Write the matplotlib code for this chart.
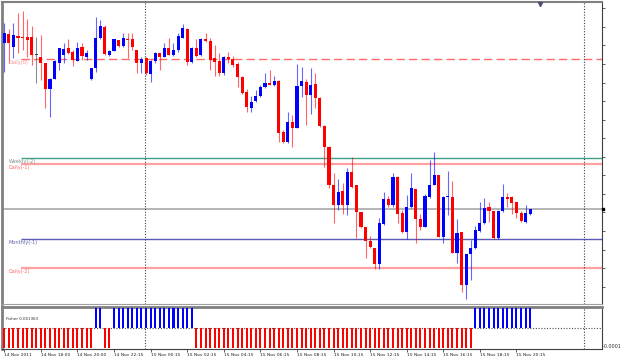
import numpy as np
import matplotlib
matplotlib.use('Agg')
import matplotlib.pyplot as plt

# 15 minute EUR/USD bars, 14 Nov 2011 16:15 .. 15 Nov 2011 20:45
open_ = [1.3757, 1.3766, 1.3753, 1.3764, 1.3763, 1.3763, 1.3763, 1.3745, 1.3743, 1.3737,
         1.3711, 1.3721, 1.3737, 1.3745, 1.3752, 1.3748, 1.3739, 1.3753, 1.3743, 1.3721,
         1.3732, 1.3762, 1.3773, 1.3745, 1.3749, 1.3760, 1.3754, 1.3761, 1.3761, 1.3750,
         1.3737, 1.3742, 1.3726, 1.3739, 1.3747, 1.3743, 1.3752, 1.3745, 1.3750, 1.3762,
         1.3771, 1.3738, 1.3752, 1.3745, 1.3761, 1.3759, 1.3742, 1.3739, 1.3727, 1.3743,
         1.3741, 1.3736, 1.3723, 1.3708, 1.3692, 1.3699, 1.3704, 1.3713, 1.3717, 1.3715,
         1.3719, 1.3668, 1.3658, 1.3678, 1.3672, 1.3714, 1.3718, 1.3705, 1.3716, 1.3702,
         1.3674, 1.3653, 1.3615, 1.3595, 1.3609, 1.3595, 1.3628, 1.3615, 1.3588, 1.3573,
         1.3559, 1.3552, 1.3536, 1.3576, 1.3601, 1.3595, 1.3623, 1.3587, 1.3568, 1.3593,
         1.3611, 1.3581, 1.3573, 1.3603, 1.3615, 1.3625, 1.3563, 1.3603, 1.3603, 1.3547,
         1.3568, 1.3515, 1.3546, 1.3552, 1.3569, 1.3577, 1.3593, 1.3589, 1.3562, 1.3589,
         1.3603, 1.3603, 1.3598, 1.3587, 1.3578, 1.3586]
high = [1.3777, 1.3771, 1.3777, 1.3787, 1.3789, 1.3781, 1.3774, 1.3763, 1.3765, 1.3737,
        1.3722, 1.3740, 1.3752, 1.3757, 1.3761, 1.3750, 1.3758, 1.3757, 1.3750, 1.3732,
        1.3783, 1.3780, 1.3775, 1.3750, 1.3761, 1.3760, 1.3767, 1.3767, 1.3767, 1.3750,
        1.3743, 1.3743, 1.3740, 1.3748, 1.3747, 1.3757, 1.3762, 1.3757, 1.3767, 1.3776,
        1.3772, 1.3753, 1.3761, 1.3762, 1.3767, 1.3762, 1.3755, 1.3747, 1.3744, 1.3748,
        1.3744, 1.3738, 1.3724, 1.3711, 1.3704, 1.3710, 1.3715, 1.3727, 1.3730, 1.3724,
        1.3720, 1.3670, 1.3688, 1.3685, 1.3736, 1.3733, 1.3721, 1.3732, 1.3727, 1.3703,
        1.3675, 1.3654, 1.3627, 1.3621, 1.3617, 1.3632, 1.3643, 1.3615, 1.3588, 1.3573,
        1.3564, 1.3552, 1.3582, 1.3608, 1.3604, 1.3627, 1.3624, 1.3590, 1.3605, 1.3627,
        1.3611, 1.3586, 1.3606, 1.3640, 1.3648, 1.3625, 1.3604, 1.3629, 1.3619, 1.3581,
        1.3568, 1.3546, 1.3560, 1.3574, 1.3598, 1.3602, 1.3598, 1.3589, 1.3590, 1.3616,
        1.3607, 1.3604, 1.3598, 1.3589, 1.3595, 1.3591]
low = [1.3728, 1.3737, 1.3742, 1.3747, 1.3750, 1.3743, 1.3735, 1.3717, 1.3720, 1.3692,
       1.3683, 1.3721, 1.3730, 1.3737, 1.3746, 1.3734, 1.3739, 1.3740, 1.3740, 1.3720,
       1.3728, 1.3761, 1.3745, 1.3744, 1.3749, 1.3753, 1.3753, 1.3742, 1.3750, 1.3727,
       1.3727, 1.3725, 1.3718, 1.3737, 1.3730, 1.3743, 1.3745, 1.3744, 1.3748, 1.3762,
       1.3735, 1.3737, 1.3743, 1.3744, 1.3758, 1.3730, 1.3724, 1.3724, 1.3725, 1.3737,
       1.3733, 1.3713, 1.3706, 1.3688, 1.3688, 1.3698, 1.3703, 1.3712, 1.3715, 1.3714,
       1.3658, 1.3657, 1.3657, 1.3653, 1.3672, 1.3703, 1.3675, 1.3686, 1.3692, 1.3673,
       1.3633, 1.3612, 1.3577, 1.3590, 1.3586, 1.3585, 1.3612, 1.3562, 1.3572, 1.3542,
       1.3552, 1.3531, 1.3531, 1.3575, 1.3593, 1.3593, 1.3577, 1.3567, 1.3561, 1.3592,
       1.3557, 1.3570, 1.3573, 1.3602, 1.3615, 1.3563, 1.3557, 1.3585, 1.3547, 1.3537,
       1.3508, 1.3501, 1.3520, 1.3551, 1.3568, 1.3576, 1.3578, 1.3561, 1.3561, 1.3588,
       1.3593, 1.3586, 1.3582, 1.3578, 1.3577, 1.3585]
close = [1.3767, 1.3757, 1.3765, 1.3762, 1.3762, 1.3760, 1.3745, 1.3745, 1.3737, 1.3711,
         1.3721, 1.3739, 1.3752, 1.3751, 1.3747, 1.3740, 1.3752, 1.3744, 1.3747, 1.3732,
         1.3762, 1.3774, 1.3746, 1.3749, 1.3761, 1.3754, 1.3762, 1.3760, 1.3753, 1.3737,
         1.3741, 1.3727, 1.3739, 1.3747, 1.3743, 1.3752, 1.3745, 1.3750, 1.3764, 1.3772,
         1.3738, 1.3752, 1.3744, 1.3761, 1.3759, 1.3740, 1.3738, 1.3727, 1.3743, 1.3741,
         1.3735, 1.3723, 1.3707, 1.3693, 1.3698, 1.3704, 1.3713, 1.3717, 1.3715, 1.3719,
         1.3667, 1.3658, 1.3678, 1.3672, 1.3714, 1.3719, 1.3705, 1.3715, 1.3702, 1.3674,
         1.3653, 1.3615, 1.3595, 1.3608, 1.3595, 1.3628, 1.3613, 1.3588, 1.3573, 1.3559,
         1.3553, 1.3536, 1.3577, 1.3601, 1.3595, 1.3623, 1.3586, 1.3568, 1.3593, 1.3612,
         1.3581, 1.3573, 1.3604, 1.3615, 1.3625, 1.3563, 1.3603, 1.3604, 1.3547, 1.3567,
         1.3515, 1.3546, 1.3552, 1.3570, 1.3577, 1.3592, 1.3589, 1.3562, 1.3589, 1.3603,
         1.3601, 1.3597, 1.3587, 1.3579, 1.3587, 1.3591]

# Fisher histogram: +1 blue bar, -1 red bar (all bars are clipped by the window)
fisher = [-1] * 20 + [1] * 2 + [-1] * 2 + [1] * 18 + [-1] * 61 + [1] * 13
fisher_text = 'Fisher 0.061363'

# Pivot levels
level_names = ['Daily(0)', 'Weekly(-2)', 'Daily(-1)', 'Monthly(-1)', 'Daily(-2)']
level_prices = [1.3741, 1.3642, 1.3636, 1.3561, 1.3532]
level_colors = ['#ff6a6a', '#3f9f8a', '#ffa0a0', '#5a5ab4', '#ffa0a0']
label_colors = ['#ff8c8c', '#7c9488', '#ff6a6a', '#6060b0', '#ff6a6a']

# Time axis
time_labels = ['14 Nov 2011', '14 Nov 18:00', '14 Nov 20:00', '14 Nov 22:15', '15 Nov 00:15',
               '15 Nov 02:15', '15 Nov 04:15', '15 Nov 06:15', '15 Nov 08:15', '15 Nov 10:15',
               '15 Nov 12:15', '15 Nov 14:15', '15 Nov 16:15', '15 Nov 18:15', '15 Nov 20:15']
time_label_bars = [0, 8, 16, 24, 32, 40, 48, 56, 64, 72, 80, 88, 96, 104, 112]
day_breaks = [30.75, 126.75]

o = np.array(open_)
h = np.array(high)
l = np.array(low)
c = np.array(close)
x = np.arange(len(c))

colors = np.where(c > o, '#0000ff', np.where(c < o, '#ff0000', '#404040'))

fig = plt.figure(figsize=(6.25, 3.6), dpi=100)
fig.patch.set_facecolor('white')

# Main price window
ax = fig.add_axes([2 / 625, 1 - 304 / 360, 600 / 625, 302 / 360])
ax.set_xlim(-0.5, 130.7)
ax.set_ylim(1.3496, 1.3798)

# Pivot lines and their names
for name, price, lc, tc in zip(level_names, level_prices, level_colors, label_colors):
    if name == 'Daily(0)':
        ax.hlines(price, 3.6, 130.7, colors=lc, lw=1.0, linestyles=(0, (6, 3)), zorder=1)
    elif name.startswith('Daily'):
        ax.hlines(price, 3.6, 130.7, colors=lc, lw=1.6, zorder=1)
    else:
        ax.hlines(price, 3.6, 130.7, colors=lc, lw=1.0, zorder=1)
    ax.text(0.9, price - 0.0001, name, color=tc, fontsize=3.6, va='top', ha='left', zorder=5)

# Current price line
ax.axhline(c[-1], color='#a0a0a0', lw=1.1, zorder=1)

# Candles
ax.vlines(x, l, h, colors=colors, lw=0.8, alpha=0.6, zorder=3)
ax.bar(x, np.maximum(np.abs(c - o), 0.00008), bottom=np.minimum(o, c), width=0.68,
       color=colors, linewidth=0, zorder=4)

for b in day_breaks:
    ax.axvline(b, color='#404040', lw=0.8, ls=(0, (1, 1.5)), zorder=2)

# Chart shift marker and bid marker
ax.plot([117.1], [0.993], marker='v', ms=3, color='#505070',
        transform=ax.get_xaxis_transform(), clip_on=False, zorder=6)
ax.plot([131.0], [c[-1]], marker='s', ms=1.8, color='black', clip_on=False, zorder=6)

ax.yaxis.tick_right()
ax.set_yticks(np.arange(1.37917, 1.3496, -0.001856))
ax.set_yticklabels([])
ax.tick_params(axis='y', direction='out', length=2.2, width=0.6, color='#404040')
ax.tick_params(axis='x', bottom=False, labelbottom=False)
ax.spines['left'].set_color('#808080')
ax.spines['left'].set_linewidth(2.0)
ax.spines['top'].set_color('#808080')
ax.spines['top'].set_linewidth(1.5)
ax.spines['right'].set_color('#404040')
ax.spines['right'].set_linewidth(0.8)
ax.spines['bottom'].set_color('#a0a0a0')
ax.spines['bottom'].set_linewidth(0.8)

# Fisher window
ax2 = fig.add_axes([2 / 625, 11 / 360, 600 / 625, 42 / 360])
ax2.set_xlim(-0.5, 130.7)
ax2.set_ylim(-1.05, 1.05)
fcolors = ['#0000ff' if v > 0 else '#ff0000' for v in fisher]
ax2.bar(x, fisher, width=0.44, color=fcolors, linewidth=0, zorder=3)
ax2.axhline(0, color='#505050', lw=0.8, ls=(0, (1, 1.5)), zorder=1)
for b in day_breaks:
    ax2.axvline(b, color='#404040', lw=0.8, ls=(0, (1, 1.5)), zorder=2)
ax2.text(0.006, 0.72, fisher_text, transform=ax2.transAxes, fontsize=2.9,
         color='#303030', va='center', ha='left')
ax2.text(1.002, 0.06, '-0.0001', transform=ax2.transAxes, fontsize=3.5,
         color='#303030', va='center', ha='left', clip_on=False)

ax2.set_yticks([])
ax2.set_xticks(time_label_bars)
ax2.set_xticklabels(time_labels, fontsize=3.2, ha='left', color='#202020')
ax2.tick_params(axis='x', direction='out', length=2.0, width=0.6, pad=1.2, color='#404040')
ax2.spines['top'].set_color('#808080')
ax2.spines['top'].set_linewidth(2.0)
ax2.spines['left'].set_color('#808080')
ax2.spines['left'].set_linewidth(2.0)
ax2.spines['right'].set_color('#404040')
ax2.spines['right'].set_linewidth(0.8)
ax2.spines['bottom'].set_color('#404040')
ax2.spines['bottom'].set_linewidth(0.8)

fig.savefig('out.png', dpi=100)
